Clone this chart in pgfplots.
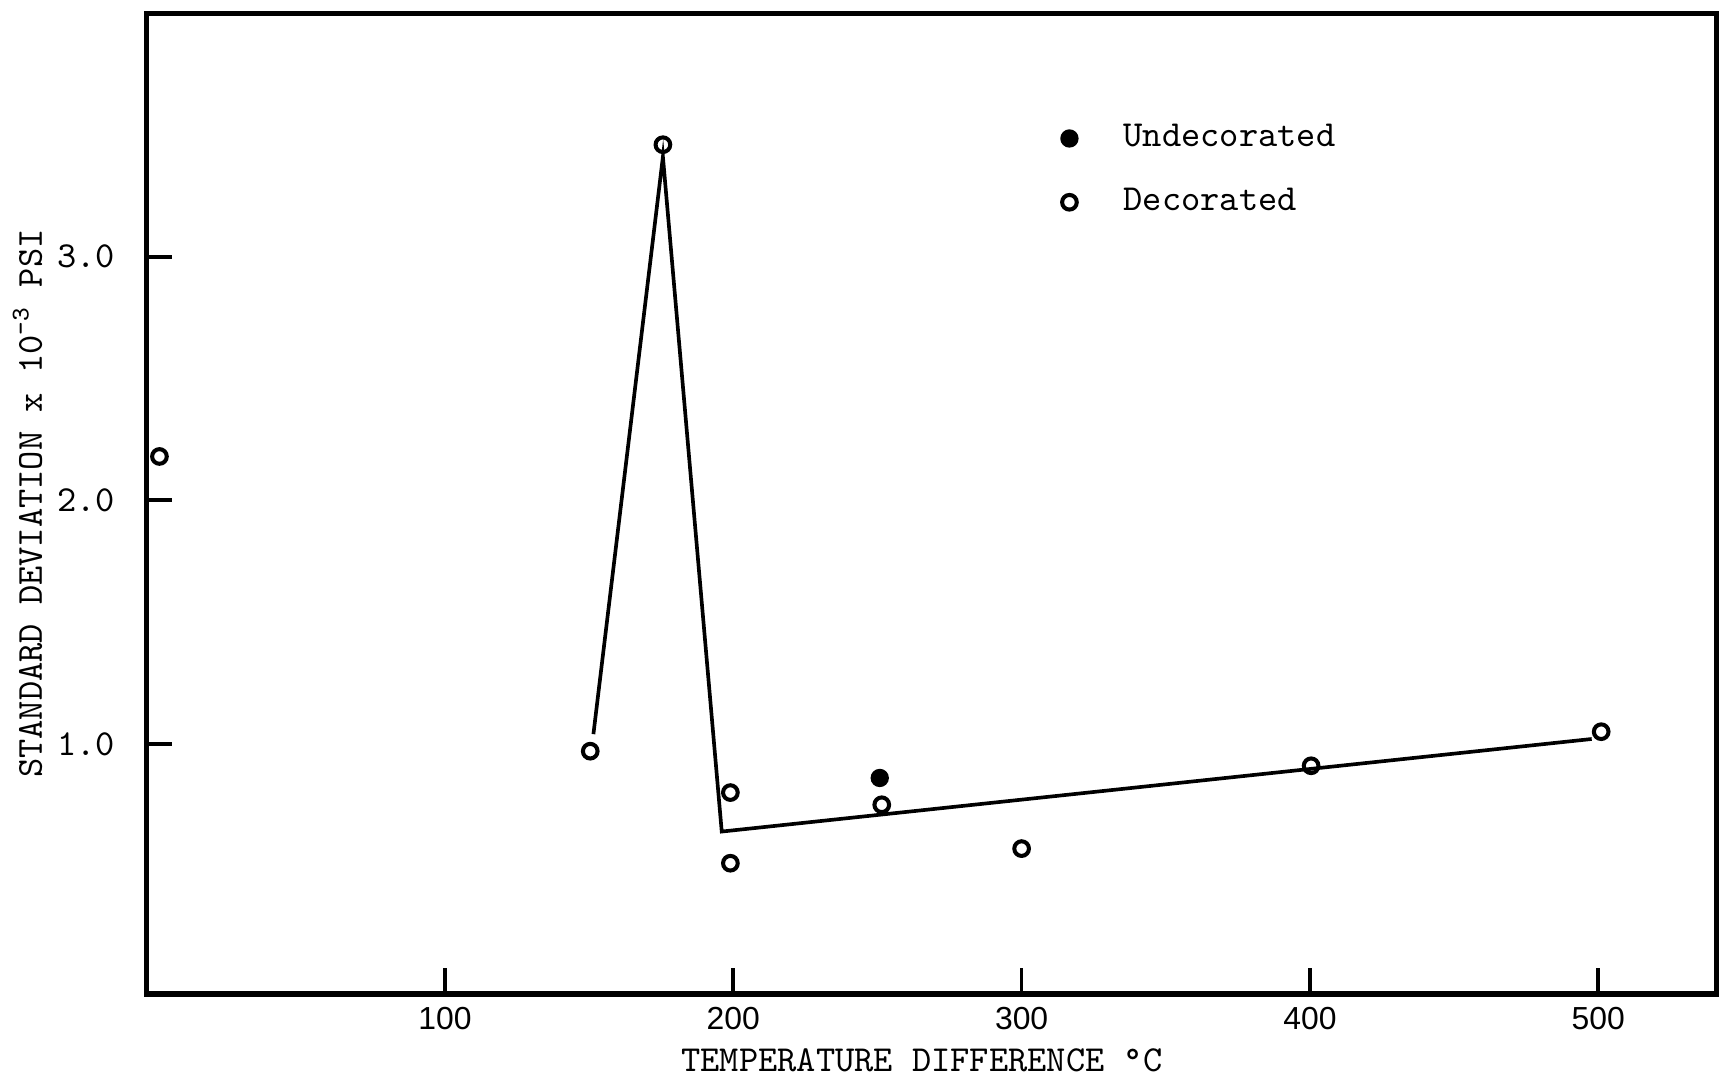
\documentclass[border=0pt]{standalone}
\usepackage{pgfplots}
\pgfplotsset{compat=1.18}
\usepackage{fontspec}
\newfontfamily\sansf{Liberation Sans}
\begin{document}
\begin{tikzpicture}
\useasboundingbox (-39.9pt,-23.4pt) rectangle (430.1pt,271.3pt);
\begin{axis}[
  at={(0,0)}, anchor=south west,
  scale only axis, width=428.6pt, height=267.7pt,
  xmin=-3.6, xmax=541, ymin=-0.027, ymax=4,
  tick pos=left,
  tick align=inside,
  major tick length=7pt,
  axis line style={line width=1.4pt},
  every tick/.style={line width=1pt, black},
  xtick={100,200,300,400,500},
  ytick={1,2,3},
  yticklabels={1.0,2.0,3.0},
  /pgf/number format/assume math mode=true,
  xticklabel style={font=\sansf\fontsize{8.7}{10}\selectfont},
  yticklabel style={font=\ttfamily\fontsize{10}{12}\selectfont, xshift=-5pt},
  xlabel={TEMPERATURE DIFFERENCE °C},
  ylabel={STANDARD DEVIATION x 10\textsuperscript{-3} PSI},
  label style={font=\ttfamily\fontsize{10}{12}\selectfont},
  every axis x label/.append style={at={(axis description cs:0.494,-0.0672)}, anchor=center},
  every axis y label/.append style={at={(axis description cs:-0.0756,0.5)}, anchor=center},
  legend style={draw=none, fill=none, at={(axis cs:309.6,3.606)}, anchor=north west,
    font=\ttfamily\fontsize{10}{12}\selectfont, row sep=5.8pt,
    /tikz/every odd column/.append style={column sep=10.5pt}},
  legend cell align=left,
]
\addplot[black, line width=1pt, forget plot] coordinates {
  (151.5,1.04) (175.6,3.41) (196,0.64) (497.7,1.02)
};
\addplot[only marks, mark=*, mark size=2.3pt, black] coordinates {
  (250.8,0.86)
};
\addlegendentry{Undecorated}
\addplot[only marks, mark=o, mark size=2pt, black, mark options={line width=1.1pt}] coordinates {
  (1,2.18) (150.4,0.97) (175.6,3.46) (199,0.80) (199,0.51)
  (251.5,0.75) (300,0.57) (400.4,0.91) (501,1.05)
};
\addlegendentry{Decorated}
\end{axis}
\end{tikzpicture}
\end{document}
